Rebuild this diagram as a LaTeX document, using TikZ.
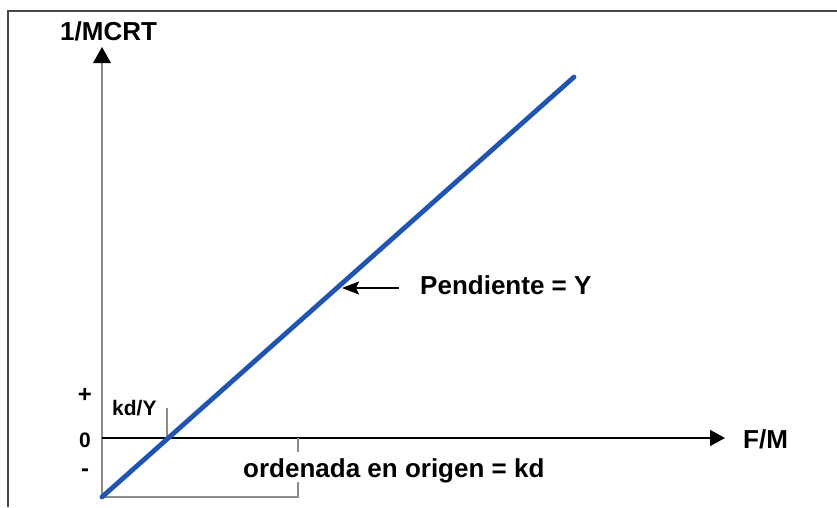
\documentclass[tikz,border=0pt]{standalone}
\usepackage{fontspec}
\setmainfont{Liberation Sans}
\usetikzlibrary{arrows.meta}
\definecolor{lineblue}{RGB}{31,84,176}
\definecolor{axisgray}{RGB}{140,140,140}
\definecolor{framegray}{RGB}{70,70,70}
\tikzset{
  big/.style={font=\fontsize{26}{30}\selectfont\bfseries, inner sep=0pt},
  small/.style={font=\fontsize{21}{24}\selectfont\bfseries, inner sep=0pt},
  signs/.style={font=\fontsize{24}{28}\selectfont\bfseries, inner sep=0pt},
  framel/.style={draw=framegray, line width=2pt},
  yaxis/.style={draw=axisgray, line width=2.8pt},
  xaxis/.style={draw=black, line width=1.8pt},
  bracket/.style={draw=axisgray, line width=2.4pt},
  ticksty/.style={draw=axisgray, line width=2pt},
  bluel/.style={draw=lineblue, line width=4.8pt, line cap=round},
  pendarrow/.style={draw=black, line width=1.8pt, -{Stealth[length=17pt,width=13pt,inset=3pt]}}
}
\begin{document}
\begin{tikzpicture}[x=1pt,y=-1pt]
\useasboundingbox (0,0) rectangle (837,507);
% frame
\coordinate (f1) at (8,507);
\coordinate (f2) at (8,11);
\coordinate (f3) at (837,11);
\draw[framel] (f1) -- (f2) -- (f3);
% axis points
\coordinate (ybot) at (102,497);
\coordinate (ytop) at (102,47);
\coordinate (yhb) at (102,62);
\coordinate (yhl) at (93,63);
\coordinate (yhr) at (111,63);
\coordinate (orig) at (102,438);
\coordinate (xend) at (725,438);
\coordinate (bl) at (574,77);
\coordinate (kdtop) at (167,408);
\coordinate (kdbot) at (167,438);
\coordinate (br1) at (298,497);
\coordinate (br2) at (298,482);
\coordinate (tk1) at (298,438);
\coordinate (tk2) at (298,452);
\coordinate (pa1) at (399,288);
\coordinate (pa2) at (342,288);
% axes
\draw[yaxis] (ybot) -- (yhb);
\fill (ytop) -- (yhl) -- (yhr) -- cycle;
\draw[xaxis, -{Triangle[length=15pt,width=16pt]}] (orig) -- (xend);
% bracket and ticks
\draw[bracket] (ybot) -- (br1) -- (br2);
\draw[ticksty] (tk1) -- (tk2);
\draw[ticksty] (kdtop) -- (kdbot);
% blue line
\draw[bluel] (ybot) -- (bl);
% slope arrow
\draw[pendarrow] (pa1) -- (pa2);
% labels
\node[big, anchor=base west] (ylab) at (60,40) {1/MCRT};
\node[big, anchor=base west] (xlab) at (743,448) {F/M};
\node[big, anchor=base west] (pend) at (420,294) {Pendiente = Y};
\node[big, anchor=base west] (ord) at (243,477) {ordenada en origen = kd};
\node[small, anchor=base west] (kdy) at (112,415) {kd/Y};
\node[signs, anchor=base] (plus) at (85,402) {+};
\node[small, anchor=base] (zero) at (85,447) {0};
\node[signs, anchor=base] (minus) at (85,476) {-};
\end{tikzpicture}
\end{document}
